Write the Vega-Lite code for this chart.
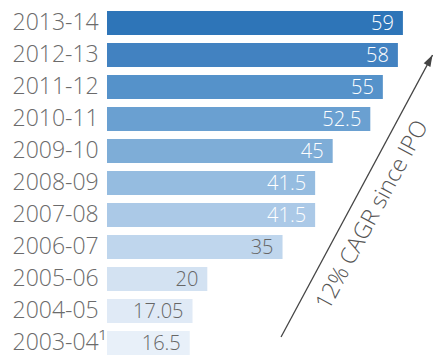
{
  "$schema": "https://vega.github.io/schema/vega-lite/v6.json",
  "width": 326,
  "height": 352,
  "autosize": {"type": "none"},
  "padding": {"left": 107, "top": 7, "right": 0, "bottom": 0},
  "background": "white",
  "config": {"view": {"stroke": null}, "font": "Open Sans"},
  "data": {"values": [
    {"year": "2013-14", "value": 59, "label": "59"},
    {"year": "2012-13", "value": 58, "label": "58"},
    {"year": "2011-12", "value": 55, "label": "55"},
    {"year": "2010-11", "value": 52.5, "label": "52.5"},
    {"year": "2009-10", "value": 45, "label": "45"},
    {"year": "2008-09", "value": 41.5, "label": "41.5"},
    {"year": "2007-08", "value": 41.5, "label": "41.5"},
    {"year": "2006-07", "value": 35, "label": "35"},
    {"year": "2005-06", "value": 20, "label": "20"},
    {"year": "2004-05", "value": 17.05, "label": "17.05"},
    {"year": "2003-04", "value": 16.5, "label": "16.5"}
  ]},
  "layer": [
    {
      "mark": {"type": "bar"},
      "encoding": {
        "y": {"field": "year", "type": "nominal", "sort": null,
          "scale": {"paddingInner": 0.25, "paddingOuter": 0.125},
          "axis": {"title": null, "domain": false, "ticks": false, "labelAlign": "left", "labelPadding": 95,
            "labelFontSize": 23, "labelColor": "#6b6b6b", "labelFont": "Open Sans", "labelFontWeight": 300,
            "labelExpr": "datum.value == '2003-04' ? '2003-04¹' : datum.value"}},
        "x": {"field": "value", "type": "quantitative", "scale": {"domain": [0, 65], "nice": false}, "axis": null},
        "color": {"field": "year", "type": "nominal", "legend": null,
          "scale": {"domain": ["2013-14","2012-13","2011-12","2010-11","2009-10","2008-09","2007-08","2006-07","2005-06","2004-05","2003-04"],
            "range": ["#2e75b8","#4282c1","#5592ca","#6aa0d1","#7eadd7","#95bce0","#abc9e7","#bfd6ed","#d3e2f2","#e0eaf6","#e8f0f9"]}}
      }
    },
    {
      "mark": {"type": "text", "align": "right", "baseline": "middle", "dx": -9, "dy": 1, "fontSize": 20, "fontWeight": 300, "font": "Open Sans"},
      "encoding": {
        "y": {"field": "year", "type": "nominal", "sort": null},
        "x": {"field": "value", "type": "quantitative"},
        "text": {"field": "label"},
        "color": {"condition": {"test": "datum.value > 40", "value": "white"}, "value": "#666666"}
      }
    },
    {
      "data": {"values": [{"x1": 64.9, "y1": "2012-13", "x2": 34.7, "y2": "2003-04"}]},
      "mark": {"type": "rule", "color": "#444444", "strokeWidth": 1.3, "y2Offset": -6},
      "encoding": {
        "x": {"field": "x1", "type": "quantitative"},
        "y": {"field": "y1", "type": "nominal", "sort": null},
        "x2": {"field": "x2"},
        "y2": {"field": "y2"}
      }
    },
    {
      "data": {"values": [{"x": 64.9, "y": "2012-13"}]},
      "mark": {"type": "point", "filled": true, "color": "#444444", "opacity": 1, "size": 400,
        "shape": "M0,0L-0.38,1.15L0.38,1.15Z", "angle": 28.3},
      "encoding": {
        "x": {"field": "x", "type": "quantitative"},
        "y": {"field": "y", "type": "nominal", "sort": null}
      }
    },
    {
      "data": {"values": [{"x": 52.9, "y": "2007-08", "t": "12% CAGR since IPO"}]},
      "mark": {"type": "text", "angle": -61.7, "align": "center", "baseline": "middle", "fontSize": 23, "fontWeight": 300, "font": "Open Sans", "color": "#555555"},
      "encoding": {
        "x": {"field": "x", "type": "quantitative"},
        "y": {"field": "y", "type": "nominal", "sort": null},
        "text": {"field": "t"}
      }
    }
  ]
}
